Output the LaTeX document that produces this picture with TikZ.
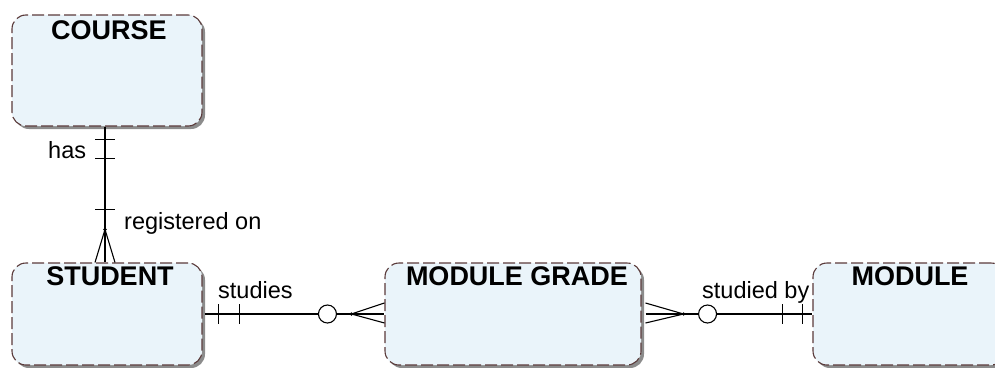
\documentclass[tikz,border=0pt]{standalone}
\usepackage{fontspec}
\setmainfont{Liberation Sans}
\usetikzlibrary{shadows,calc}
\definecolor{boxfill}{HTML}{EAF4FA}
\definecolor{boxline}{HTML}{5A3A3A}
\definecolor{shadowgray}{HTML}{8C8C8C}
\begin{document}
\begin{tikzpicture}[x=1pt,y=-1pt,
  entity/.style={draw=boxline, line width=1.1pt, dash pattern=on 12pt off 4pt,
    fill=boxfill, rounded corners=14pt, minimum height=102pt, inner sep=0pt,
    drop shadow={shadow xshift=3pt, shadow yshift=-3pt, fill=shadowgray, opacity=1}},
  title/.style={font=\fontsize{27}{30}\selectfont\bfseries, inner sep=0pt},
  lbl/.style={font=\fontsize{23.5}{26}\selectfont, inner sep=0pt, anchor=base west},
  conn/.style={draw=black, line width=1.1pt},
  ring/.style={draw=black, line width=1.1pt, fill=white, circle, minimum size=18pt, inner sep=0pt}]
\useasboundingbox (0,0) rectangle (995,367);
\clip (0,0) rectangle (995,367);
% entities
\node[entity, minimum width=190pt, minimum height=111pt] (course) at (107,70.5) {};
\node[entity, minimum width=190pt] (student) at (107,314) {};
\node[entity, minimum width=256pt] (grade) at (513,314) {};
\node[entity, minimum width=192pt] (module) at (909,314) {};
% titles
\node[title] (tcourse) at (109,30) {COURSE};
\node[title] (tstudent) at (110,276) {STUDENT};
\node[title] (tgrade) at (517,276) {MODULE GRADE};
\node[title] (tmodule) at (910,276) {MODULE};
% COURSE - STUDENT
\coordinate (a) at ([xshift=-2pt]course.south);
\coordinate (b) at ([xshift=-2pt]student.north);
\draw[conn] (a) -- (b);
\draw[conn] ($(a)+(-10,13)$) -- ++(20,0);
\draw[conn] ($(a)+(-10,32)$) -- ++(20,0);
\draw[conn] ($(b)+(-10,-53)$) -- ++(20,0);
\coordinate (apex1) at ($(b)+(0,-33)$);
\draw[conn] ($(b)+(-10,0)$) -- (apex1) -- ($(b)+(10,0)$);
\fill (apex1) circle (1.8pt);
% STUDENT - MODULE GRADE
\coordinate (s1) at ([xshift=2pt]student.east);
\coordinate (g1) at (grade.west);
\node[ring] (r1) at ($(g1)+(-57,0)$) {};
\coordinate (apex2) at ($(g1)+(-33,0)$);
\draw[conn] (s1) -- (r1.west);
\draw[conn] (r1.east) -- (g1);
\draw[conn] ($(s1)+(14,-10)$) -- ++(0,20);
\draw[conn] ($(s1)+(35,-10)$) -- ++(0,20);
\draw[conn] ($(g1)+(0,-11)$) -- (apex2) -- ($(g1)+(0,9)$);
\fill (apex2) circle (1.8pt);
% MODULE GRADE - MODULE
\coordinate (g2) at ([xshift=4pt]grade.east);
\coordinate (m1) at (module.west);
\node[ring] (r2) at ($(g2)+(62,0)$) {};
\coordinate (apex3) at ($(g2)+(38,0)$);
\draw[conn] (g2) -- (r2.west);
\draw[conn] (r2.east) -- (m1);
\draw[conn] ($(m1)+(-30,-10)$) -- ++(0,20);
\draw[conn] ($(m1)+(-10,-10)$) -- ++(0,20);
\draw[conn] ($(g2)+(0,-11)$) -- (apex3) -- ($(g2)+(0,9)$);
\fill (apex3) circle (1.8pt);
% labels
\node[lbl] (lhas) at (48,158) {has};
\node[lbl] (lreg) at (124,229) {registered on};
\node[lbl] (lstudies) at (218,298) {studies};
\node[lbl] (lstudiedby) at (702,298) {studied by};
\end{tikzpicture}
\end{document}
